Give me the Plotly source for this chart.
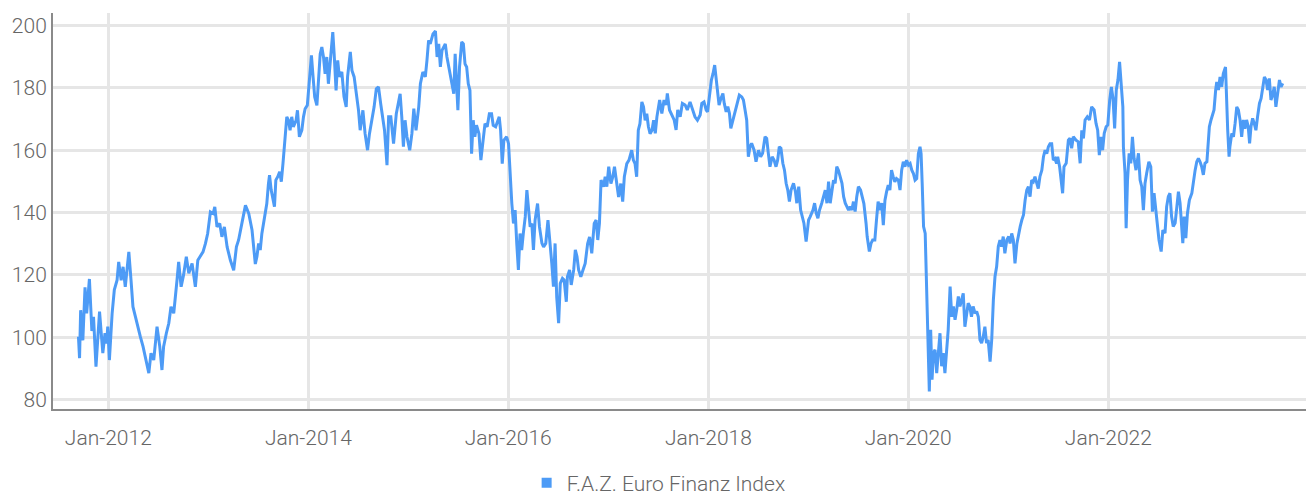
import plotly.graph_objects as go

# F.A.Z. Euro Finanz Index, approximate weekly readings
dates = [
    "2011-09-14", "2011-09-18", "2011-09-22", "2011-09-30", "2011-10-08", "2011-10-14", "2011-10-24",
    "2011-11-02", "2011-11-08", "2011-11-17", "2011-11-30", "2011-12-12", "2011-12-20", "2011-12-26",
    "2011-12-30",
    "2012-01-05", "2012-01-15", "2012-01-23", "2012-02-02", "2012-02-08", "2012-02-17", "2012-02-24",
    "2012-03-03", "2012-03-16", "2012-03-24", "2012-03-31", "2012-04-09", "2012-04-17", "2012-04-27",
    "2012-05-07", "2012-05-19", "2012-05-28", "2012-06-05", "2012-06-15", "2012-06-27", "2012-07-07",
    "2012-07-15", "2012-07-21", "2012-07-31", "2012-08-09", "2012-08-17", "2012-08-27", "2012-09-08",
    "2012-09-14", "2012-09-23", "2012-10-02", "2012-10-12", "2012-10-21", "2012-11-02", "2012-11-14",
    "2012-11-23", "2012-12-02", "2012-12-12", "2012-12-21", "2012-12-29",
    "2013-01-08", "2013-01-18", "2013-01-24", "2013-02-01", "2013-02-11", "2013-02-19", "2013-02-28",
    "2013-03-10", "2013-03-22", "2013-04-03", "2013-04-13", "2013-04-21", "2013-05-04", "2013-05-16",
    "2013-05-28", "2013-06-09", "2013-06-21", "2013-06-27", "2013-07-03", "2013-07-09", "2013-07-15",
    "2013-07-21", "2013-07-27", "2013-08-02", "2013-08-08", "2013-08-12", "2013-08-18", "2013-08-24",
    "2013-08-30", "2013-09-04", "2013-09-11", "2013-09-18", "2013-09-24", "2013-09-30", "2013-10-06",
    "2013-10-11", "2013-10-14", "2013-10-20", "2013-10-26", "2013-11-01", "2013-11-07", "2013-11-17",
    "2013-11-22", "2013-11-29", "2013-12-08", "2013-12-14", "2013-12-20", "2013-12-28",
    "2014-01-06", "2014-01-12", "2014-01-18", "2014-01-24", "2014-02-01", "2014-02-07", "2014-02-13",
    "2014-02-19", "2014-02-25", "2014-03-03", "2014-03-09", "2014-03-15", "2014-03-21", "2014-03-31",
    "2014-04-05", "2014-04-12", "2014-04-18", "2014-04-24", "2014-05-03", "2014-05-11", "2014-05-19",
    "2014-05-24", "2014-06-03", "2014-06-09", "2014-06-17", "2014-06-24", "2014-07-03", "2014-07-09",
    "2014-07-19", "2014-07-27", "2014-08-05", "2014-08-12", "2014-08-21", "2014-08-29", "2014-09-06",
    "2014-09-14", "2014-09-22", "2014-09-30", "2014-10-06", "2014-10-15", "2014-10-21", "2014-10-29",
    "2014-11-08", "2014-11-18", "2014-11-26", "2014-12-02", "2014-12-08", "2014-12-14", "2014-12-20",
    "2014-12-27",
    "2015-01-06", "2015-01-14", "2015-01-21", "2015-01-29", "2015-02-08", "2015-02-14", "2015-02-23",
    "2015-03-04", "2015-03-10", "2015-03-16", "2015-03-22", "2015-04-01", "2015-04-10", "2015-04-16",
    "2015-04-22", "2015-04-28", "2015-05-04", "2015-05-10", "2015-05-16", "2015-05-22", "2015-06-01",
    "2015-06-10", "2015-06-16", "2015-06-21", "2015-06-25", "2015-07-01", "2015-07-07", "2015-07-15",
    "2015-07-21", "2015-07-27", "2015-08-02", "2015-08-08", "2015-08-14", "2015-08-20", "2015-08-26",
    "2015-09-01", "2015-09-07", "2015-09-16", "2015-09-23", "2015-10-02", "2015-10-08", "2015-10-16",
    "2015-10-24", "2015-11-01", "2015-11-07", "2015-11-16", "2015-11-23", "2015-11-29", "2015-12-04",
    "2015-12-10", "2015-12-16", "2015-12-26",
    "2016-01-02", "2016-01-08", "2016-01-14", "2016-01-20", "2016-01-26", "2016-02-01", "2016-02-07",
    "2016-02-13", "2016-02-19", "2016-02-25", "2016-03-03", "2016-03-09", "2016-03-15", "2016-03-21",
    "2016-03-27", "2016-04-02", "2016-04-08", "2016-04-17", "2016-04-24", "2016-05-03", "2016-05-09",
    "2016-05-17", "2016-05-25", "2016-05-31", "2016-06-08", "2016-06-14", "2016-06-20", "2016-06-26",
    "2016-07-03", "2016-07-09", "2016-07-17", "2016-07-23", "2016-07-31", "2016-08-04", "2016-08-12",
    "2016-08-18", "2016-08-27", "2016-09-02", "2016-09-08", "2016-09-14", "2016-09-22", "2016-09-30",
    "2016-10-08", "2016-10-17", "2016-10-24", "2016-11-01", "2016-11-10", "2016-11-17", "2016-11-23",
    "2016-11-29", "2016-12-05", "2016-12-14", "2016-12-20", "2016-12-26",
    "2017-01-02", "2017-01-10", "2017-01-17", "2017-01-23", "2017-02-01", "2017-02-07", "2017-02-15",
    "2017-02-22", "2017-02-28", "2017-03-09", "2017-03-17", "2017-03-27", "2017-04-02", "2017-04-08",
    "2017-04-14", "2017-04-20", "2017-04-26", "2017-05-03", "2017-05-09", "2017-05-15", "2017-05-21",
    "2017-05-27", "2017-06-02", "2017-06-09", "2017-06-15", "2017-06-21", "2017-06-27", "2017-07-07",
    "2017-07-15", "2017-07-23", "2017-07-31", "2017-08-04", "2017-08-12", "2017-08-20", "2017-08-29",
    "2017-09-05", "2017-09-11", "2017-09-20", "2017-09-28", "2017-10-08", "2017-10-16", "2017-10-26",
    "2017-11-05", "2017-11-13", "2017-11-22", "2017-12-02", "2017-12-08", "2017-12-16", "2017-12-24",
    "2017-12-29",
    "2018-01-06", "2018-01-12", "2018-01-18", "2018-01-24", "2018-01-30", "2018-02-04", "2018-02-09",
    "2018-02-16", "2018-02-23", "2018-02-28", "2018-03-07", "2018-03-13", "2018-03-19", "2018-03-24",
    "2018-03-31", "2018-04-06", "2018-04-15", "2018-04-24", "2018-05-03", "2018-05-09", "2018-05-15",
    "2018-05-21", "2018-05-27", "2018-06-02", "2018-06-08", "2018-06-17", "2018-06-24", "2018-07-03",
    "2018-07-11", "2018-07-18", "2018-07-27", "2018-08-02", "2018-08-08", "2018-08-14", "2018-08-22",
    "2018-08-29", "2018-09-05", "2018-09-11", "2018-09-17", "2018-09-23", "2018-09-30", "2018-10-06",
    "2018-10-12", "2018-10-18", "2018-10-24", "2018-10-30", "2018-11-08", "2018-11-15", "2018-11-20",
    "2018-11-27", "2018-12-04", "2018-12-10", "2018-12-16", "2018-12-24",
    "2019-01-02", "2019-01-08", "2019-01-18", "2019-01-24", "2019-01-30", "2019-02-05", "2019-02-11",
    "2019-02-19", "2019-02-25", "2019-03-04", "2019-03-10", "2019-03-16", "2019-03-22", "2019-03-28",
    "2019-04-03", "2019-04-09", "2019-04-15", "2019-04-21", "2019-04-27", "2019-05-04", "2019-05-10",
    "2019-05-16", "2019-05-22", "2019-05-28", "2019-06-03", "2019-06-09", "2019-06-15", "2019-06-21",
    "2019-06-27", "2019-07-03", "2019-07-11", "2019-07-18", "2019-07-23", "2019-07-31", "2019-08-04",
    "2019-08-12", "2019-08-18", "2019-08-24", "2019-09-01", "2019-09-07", "2019-09-13", "2019-09-20",
    "2019-09-26", "2019-10-02", "2019-10-08", "2019-10-14", "2019-10-20", "2019-10-26", "2019-11-01",
    "2019-11-07", "2019-11-13", "2019-11-19", "2019-11-26", "2019-12-02", "2019-12-08", "2019-12-14",
    "2019-12-20", "2019-12-26",
    "2020-01-02", "2020-01-08", "2020-01-14", "2020-01-20", "2020-01-26", "2020-02-01", "2020-02-07",
    "2020-02-13", "2020-02-17", "2020-02-21", "2020-02-26", "2020-03-03", "2020-03-06", "2020-03-11",
    "2020-03-15", "2020-03-18", "2020-03-23", "2020-03-28", "2020-04-02", "2020-04-08", "2020-04-14",
    "2020-04-20", "2020-04-26", "2020-05-02", "2020-05-08", "2020-05-14", "2020-05-20", "2020-05-26",
    "2020-06-02", "2020-06-08", "2020-06-14", "2020-06-20", "2020-06-26", "2020-07-02", "2020-07-08",
    "2020-07-14", "2020-07-20", "2020-07-26", "2020-08-01", "2020-08-07", "2020-08-13", "2020-08-19",
    "2020-08-25", "2020-09-01", "2020-09-07", "2020-09-13", "2020-09-19", "2020-09-25", "2020-10-01",
    "2020-10-07", "2020-10-13", "2020-10-19", "2020-10-26", "2020-11-01", "2020-11-07", "2020-11-13",
    "2020-11-19", "2020-11-25", "2020-12-01", "2020-12-07", "2020-12-13", "2020-12-19", "2020-12-26",
    "2021-01-02", "2021-01-07", "2021-01-13", "2021-01-19", "2021-01-25", "2021-02-01", "2021-02-07",
    "2021-02-13", "2021-02-19", "2021-02-25", "2021-03-03", "2021-03-09", "2021-03-15", "2021-03-21",
    "2021-03-27", "2021-04-02", "2021-04-08", "2021-04-14", "2021-04-20", "2021-04-26", "2021-05-03",
    "2021-05-09", "2021-05-15", "2021-05-21", "2021-05-27", "2021-06-02", "2021-06-08", "2021-06-14",
    "2021-06-20", "2021-06-26", "2021-06-30", "2021-07-07", "2021-07-12", "2021-07-18", "2021-07-23",
    "2021-07-31", "2021-08-08", "2021-08-14", "2021-08-20", "2021-08-26", "2021-09-05", "2021-09-13",
    "2021-09-20", "2021-09-26", "2021-10-02", "2021-10-08", "2021-10-16", "2021-10-24", "2021-11-01",
    "2021-11-10", "2021-11-17", "2021-11-23", "2021-11-29", "2021-12-05", "2021-12-11", "2021-12-17",
    "2021-12-24", "2021-12-30",
    "2022-01-06", "2022-01-12", "2022-01-18", "2022-01-24", "2022-01-30", "2022-02-05", "2022-02-11",
    "2022-02-17", "2022-02-23", "2022-02-25", "2022-03-03", "2022-03-07", "2022-03-12", "2022-03-18",
    "2022-03-24", "2022-03-30", "2022-04-05", "2022-04-12", "2022-04-21", "2022-04-27", "2022-05-03",
    "2022-05-09", "2022-05-15", "2022-05-21", "2022-05-29", "2022-06-05", "2022-06-11", "2022-06-17",
    "2022-06-23", "2022-06-29", "2022-07-05", "2022-07-13", "2022-07-19", "2022-07-27", "2022-08-02",
    "2022-08-08", "2022-08-14", "2022-08-20", "2022-08-26", "2022-09-02", "2022-09-08", "2022-09-14",
    "2022-09-20", "2022-09-26", "2022-09-30", "2022-10-05", "2022-10-11", "2022-10-17", "2022-10-24",
    "2022-11-02", "2022-11-08", "2022-11-14", "2022-11-20", "2022-11-26", "2022-12-02", "2022-12-08",
    "2022-12-14", "2022-12-20", "2022-12-27",
    "2023-01-02", "2023-01-05", "2023-01-11", "2023-01-17", "2023-01-22", "2023-01-28", "2023-02-01",
    "2023-02-07", "2023-02-13", "2023-02-19", "2023-02-25", "2023-03-05", "2023-03-09", "2023-03-13",
    "2023-03-18", "2023-03-21", "2023-03-28", "2023-04-03", "2023-04-09", "2023-04-15", "2023-04-21",
    "2023-04-27", "2023-05-03", "2023-05-09", "2023-05-15", "2023-05-21", "2023-05-27", "2023-06-01",
    "2023-06-06", "2023-06-12", "2023-06-18", "2023-06-24", "2023-06-30", "2023-07-07", "2023-07-13",
    "2023-07-19", "2023-07-25", "2023-07-31", "2023-08-06", "2023-08-12", "2023-08-18", "2023-08-24",
    "2023-08-30", "2023-09-05", "2023-09-12", "2023-09-18", "2023-09-24", "2023-09-30",
]

index_values = [
    100.2, 93.3, 108.7, 99.0, 116.0, 107.7, 118.7,
    102.0, 106.6, 90.6, 108.2, 94.9, 101.3, 98.0,
    103.4,
    92.7, 107.7, 115.2, 118.3, 124.2, 118.3, 122.6,
    116.2, 127.4, 118.3, 109.8, 106.6, 103.4, 100.2,
    97.0, 91.7, 88.5, 94.9, 92.7, 103.4, 97.0,
    89.5, 97.0, 101.3, 104.5, 109.8, 107.7, 118.3,
    124.2, 116.2, 120.0, 125.8, 120.5, 123.7, 116.2,
    124.7, 125.8, 127.4, 130.1, 133.3,
    140.2, 139.7, 141.8, 135.4, 136.5, 132.2, 135.4,
    129.0, 124.7, 121.5, 129.0, 131.2, 137.0, 142.3,
    139.7, 134.4, 123.5, 125.9, 130.1, 128.0, 133.3,
    136.5, 140.8, 142.9, 149.3, 152.0, 147.2, 144.0,
    141.9, 150.4, 151.5, 153.1, 149.9, 155.7, 162.1,
    165.3, 170.7, 169.6, 166.4, 170.7, 167.5, 169.6,
    172.8, 164.3, 166.4, 170.7, 173.3, 174.4,
    183.5, 190.4, 183.5, 177.1, 174.4, 183.5, 190.9,
    193.1, 189.9, 184.5, 189.9, 181.3, 188.8, 197.9,
    190.9, 179.2, 188.8, 183.5, 185.1, 177.1, 173.9,
    183.5, 191.5, 185.6, 183.5, 179.2, 172.8, 166.4,
    172.8, 165.3, 160.0, 165.3, 169.6, 173.9, 179.7,
    180.3, 174.9, 170.7, 166.4, 155.2, 170.7, 170.7,
    162.1, 171.7, 176.0, 178.1, 170.7, 161.1, 169.6,
    164.3,
    160.0, 165.3, 173.3, 166.4, 173.9, 181.3, 185.1,
    183.5, 188.8, 195.2, 194.1, 197.3, 198.2, 189.9,
    194.1, 186.7, 192.0, 193.1, 194.1, 189.9, 185.6,
    181.3, 178.1, 190.9, 185.0, 172.8, 186.7, 194.7,
    194.1, 187.7, 186.7, 181.3, 179.2, 158.9, 169.6,
    164.3, 168.0, 165.3, 156.8, 164.3, 168.5, 167.5,
    171.7, 171.7, 168.0, 167.5, 169.6, 170.7, 166.4,
    155.7, 163.2, 164.3,
    162.1, 150.4, 142.9, 136.5, 140.8, 130.1, 121.6,
    133.3, 128.0, 133.3, 138.6, 147.2, 139.7, 135.4,
    136.5, 128.0, 137.6, 142.9, 135.4, 130.1, 129.0,
    130.1, 137.6, 132.2, 123.7, 116.2, 130.1, 112.9,
    104.5, 117.3, 118.9, 118.4, 111.4, 119.4, 121.6,
    116.8, 121.6, 128.0, 125.9, 121.6, 119.4, 121.6,
    123.7, 130.1, 132.2, 126.9, 136.5, 137.6, 131.2,
    136.5, 150.4, 148.3, 151.5, 148.3,
    154.7, 149.3, 151.5, 154.7, 149.3, 145.0, 149.3,
    143.5, 151.5, 155.7, 156.8, 160.0, 156.8, 155.7,
    151.5, 166.4, 168.5, 175.5, 173.9, 169.6, 171.7,
    167.5, 165.3, 166.4, 169.6, 165.4, 170.7, 176.1,
    171.8, 176.1, 174.5, 178.2, 172.9, 171.3, 169.7,
    166.5, 172.9, 170.7, 175.0, 174.5, 172.9, 175.5,
    172.9, 170.7, 169.6, 171.3, 175.0, 175.5, 172.9,
    172.3,
    178.2, 182.5, 184.6, 187.3, 182.5, 179.3, 174.5,
    176.6, 178.2, 175.0, 172.3, 174.0, 171.8, 167.0,
    169.6, 171.8, 175.0, 177.7, 177.1, 176.1, 172.9,
    169.6, 157.9, 161.1, 162.2, 160.0, 156.3, 160.0,
    157.9, 159.0, 164.3, 163.8, 159.0, 154.7, 157.9,
    156.8, 154.7, 156.8, 161.1, 160.6, 155.8, 153.6,
    149.4, 147.2, 143.5, 147.2, 149.4, 146.7, 143.0,
    148.3, 140.8, 138.7, 136.6, 130.7,
    137.6, 138.7, 140.8, 143.0, 139.8, 138.2, 140.8,
    143.0, 145.1, 147.2, 143.0, 149.9, 143.0, 146.2,
    150.4, 149.4, 154.7, 153.6, 152.0, 149.4, 145.1,
    143.0, 141.9, 140.8, 141.9, 140.8, 143.5, 140.3,
    145.1, 148.3, 147.2, 144.0, 142.9, 136.5, 132.3,
    127.5, 130.1, 131.2, 131.2, 137.6, 143.5, 140.8,
    143.0, 136.0, 144.0, 146.7, 148.8, 147.2, 153.6,
    151.5, 149.9, 150.9, 150.4, 147.2, 153.6, 156.3,
    154.7, 156.8,
    155.2, 155.7, 153.6, 152.5, 150.4, 150.9, 158.9,
    161.1, 158.9, 149.3, 135.5, 133.3, 122.7, 109.9,
    92.8, 82.6, 102.4, 86.4, 94.9, 96.0, 88.5,
    93.8, 101.3, 90.7, 94.9, 88.5, 94.9, 102.4,
    116.3, 106.6, 109.9, 105.6, 108.8, 113.1, 109.9,
    112.0, 114.1, 103.4, 107.7, 110.9, 109.9, 106.6,
    109.9, 107.7, 108.3, 106.6, 99.2, 98.1, 100.2,
    103.4, 98.1, 99.2, 92.2, 99.2, 112.0, 119.5,
    122.7, 129.1, 131.2, 129.1, 132.3, 126.9, 131.2,
    132.3, 130.1, 133.3, 131.2, 123.7, 130.1, 133.3,
    135.5, 137.6, 139.2, 144.0, 147.2, 148.3, 145.1,
    150.4, 149.9, 151.5, 149.3, 147.7, 151.5, 153.6,
    157.9, 160.0, 158.9, 161.1, 162.1, 162.1, 156.8,
    157.3, 155.7, 157.9, 154.7, 151.5, 146.2, 154.7,
    155.8, 163.2, 163.8, 160.6, 164.3, 163.2, 162.7,
    155.8, 166.4, 163.8, 169.7, 170.7, 169.7, 173.9,
    172.9, 168.6, 166.4, 158.4, 164.3, 160.0, 165.4,
    167.5, 168.1,
    176.1, 180.3, 176.6, 167.0, 179.3, 182.5, 188.3,
    180.3, 173.9, 161.1, 152.6, 135.0, 150.4, 159.0,
    155.8, 164.3, 157.4, 153.6, 159.0, 150.4, 148.3,
    140.8, 149.4, 152.6, 156.3, 154.7, 140.3, 146.2,
    140.8, 135.5, 131.2, 127.5, 134.4, 133.4, 141.9,
    145.1, 146.2, 138.7, 135.5, 136.6, 141.9, 146.7,
    143.0, 135.5, 130.2, 138.7, 131.8, 139.8, 144.0,
    146.2, 150.4, 153.6, 156.3, 157.4, 156.3, 154.7,
    152.1, 155.8, 156.3,
    162.2, 167.5, 169.7, 171.3, 172.9, 179.3, 181.9,
    179.3, 183.5, 180.3, 184.6, 186.7, 173.9, 166.5,
    157.9, 161.1, 165.4, 164.3, 168.6, 173.9, 172.9,
    169.7, 164.3, 169.7, 166.9, 169.7, 167.5, 162.2,
    167.5, 170.2, 168.6, 166.4, 170.7, 175.0, 176.6,
    180.3, 183.5, 182.5, 179.3, 183.0, 176.1, 177.7,
    180.3, 173.9, 179.3, 182.5, 180.3, 181.4,
]

series_name = "F.A.Z. Euro Finanz Index"
y_ticks = [80, 100, 120, 140, 160, 180, 200]

LINE_BLUE = "#4d9bf6"
TEXT_GREY = "#666666"
GRID_GREY = "#e6e6e6"
AXIS_GREY = "#8a8a8a"
FONT = "Roboto, sans-serif"
TICK_FONT = dict(family=FONT, size=21, color=TEXT_GREY, weight=300)

fig = go.Figure()

fig.add_trace(go.Scatter(
    x=dates,
    y=index_values,
    mode="lines",
    line=dict(color=LINE_BLUE, width=3),
    name=series_name,
    showlegend=False,
))

# square legend key for the series
fig.add_trace(go.Scatter(
    x=[None],
    y=[None],
    mode="markers",
    marker=dict(symbol="square", size=10, color=LINE_BLUE),
    name=series_name,
    showlegend=True,
))

fig.update_layout(
    width=1306,
    height=496,
    margin=dict(l=53, r=0, t=13, b=87, autoexpand=False),
    paper_bgcolor="white",
    plot_bgcolor="white",
    font=TICK_FONT,
    legend=dict(
        orientation="h",
        x=0.378,
        xanchor="left",
        y=-0.187,
        yanchor="middle",
        font=TICK_FONT,
        bgcolor="rgba(0,0,0,0)",
    ),
    xaxis=dict(
        type="date",
        range=["2011-06-13", "2023-12-24"],
        tick0="2012-01-01",
        dtick="M24",
        tickformat="%b-%Y",
        showgrid=True,
        gridcolor=GRID_GREY,
        gridwidth=3,
        showline=True,
        linecolor=AXIS_GREY,
        linewidth=2,
        ticks="",
        ticklabelstandoff=9,
        automargin=False,
        zeroline=False,
        tickfont=TICK_FONT,
    ),
    yaxis=dict(
        range=[77, 204],
        tickvals=y_ticks,
        showgrid=True,
        gridcolor=GRID_GREY,
        gridwidth=3,
        showline=True,
        linecolor=AXIS_GREY,
        linewidth=2,
        ticks="",
        automargin=False,
        zeroline=False,
        tickfont=TICK_FONT,
    ),
)

fig.write_html("out.html")
